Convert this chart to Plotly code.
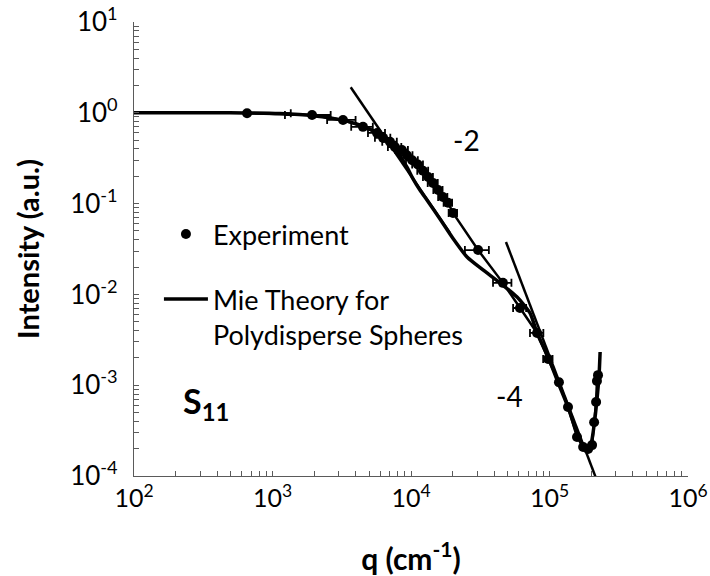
import plotly.graph_objects as go

# ---------------- data ----------------
exp_q = [655, 1930, 3230, 4500, 5690, 6290, 7050, 7660, 8600, 9350, 10200, 11200,
         12200, 13300, 14400, 15700, 17000, 18500, 20100, 30500, 46100, 61200,
         81300, 97600, 117000, 136000, 158000, 175000, 190000, 203000, 210000,
         217000, 220000, 224000]
exp_I = [0.99, 0.946, 0.834, 0.70, 0.60, 0.53, 0.48, 0.42, 0.39, 0.34, 0.30, 0.27,
         0.23, 0.196, 0.169, 0.141, 0.118, 0.102, 0.079, 0.0308, 0.0134, 0.00708,
         0.00376, 0.00194, 0.00108, 0.000575, 0.000269, 0.000209, 0.000198,
         0.000219, 0.00039, 0.000653, 0.00111, 0.00129]
exp_dq = [700, 700, 750, 800, 800, 800, 850, 850, 900, 900, 1000, 1000,
          1100, 1100, 1200, 1200, 1300, 1300, 1400, 6000, 7000, 6600,
          9000, 7600, 4000, 3000, 0, 0, 0, 0, 0, 0, 0, 0]

mie_q = [100, 493, 1130, 1950, 3330, 4650, 5980, 7050, 8330, 9350, 10300, 11600,
         13000, 16200, 20000, 25400, 33100, 43900, 58300, 72300, 81300, 97600,
         115000, 136000, 158000, 175000, 187000, 200000, 210000, 220000, 228000,
         232000]
mie_I = [1.0, 1.0, 0.98, 0.93, 0.82, 0.70, 0.57, 0.46, 0.334, 0.253, 0.19, 0.141,
         0.11, 0.0676, 0.0418, 0.0258, 0.0186, 0.0134, 0.00936, 0.00624, 0.00376,
         0.00205, 0.00108, 0.000575, 0.000298, 0.000214, 0.000198, 0.000231,
         0.000365, 0.00069, 0.00129, 0.00232]

slope2_q = [3670, 19100]
slope2_I = [1.91, 0.0474]
slope4_q = [48500, 222000]
slope4_I = [0.0378, 0.000086]

x_tickvals = [1e2, 1e3, 1e4, 1e5, 1e6]
x_ticktext = ["10<sup>2</sup>", "10<sup>3</sup>", "10<sup>4</sup>", "10<sup>5</sup>", "10<sup>6</sup>"]
y_tickvals = [1e-4, 1e-3, 1e-2, 1e-1, 1e0, 1e1]
y_ticktext = ["10<sup>-4</sup>", "10<sup>-3</sup>", "10<sup>-2</sup>", "10<sup>-1</sup>",
              "10<sup>0</sup>", "10<sup>1</sup>"]

# minor tick positions (2..9 within each decade)
x_minor = [m * d for d in [1e2, 1e3, 1e4, 1e5] for m in range(2, 10)]
y_minor = [m * d for d in [1e-4, 1e-3, 1e-2, 1e-1, 1e0] for m in range(2, 10)]

FONT = "Lato"
BLACK = "#000000"
AXC = "#5a5a5a"

fig = go.Figure()

# slope guide lines
fig.add_trace(go.Scatter(x=slope2_q, y=slope2_I, mode="lines",
                         line=dict(color=BLACK, width=2.5), showlegend=False,
                         hoverinfo="skip"))
fig.add_trace(go.Scatter(x=slope4_q, y=slope4_I, mode="lines",
                         line=dict(color=BLACK, width=2.5), showlegend=False,
                         hoverinfo="skip"))

# theory
fig.add_trace(go.Scatter(x=mie_q, y=mie_I, mode="lines",
                         line=dict(color=BLACK, width=3.5, shape="spline", smoothing=0.6),
                         name="Mie Theory for<br>Polydisperse Spheres",
                         legendrank=2, legendgroup="b"))

# experiment
fig.add_trace(go.Scatter(x=exp_q, y=exp_I, mode="lines+markers",
                         line=dict(color=BLACK, width=2.5),
                         marker=dict(color=BLACK, size=10),
                         error_x=dict(type="data", array=exp_dq, visible=True,
                                      color=BLACK, thickness=1.8, width=4),
                         showlegend=False))
# legend entry for experiment (markers only)
fig.add_trace(go.Scatter(x=[None], y=[None], mode="markers",
                         marker=dict(color=BLACK, size=10),
                         name="Experiment", legendrank=1, legendgroup="a"))

fig.update_layout(
    width=710, height=576,
    margin=dict(l=134, r=22, t=22, b=100, autoexpand=False),
    paper_bgcolor="white", plot_bgcolor="white",
    font=dict(family=FONT, color=BLACK, size=25),
    showlegend=True,
    legend=dict(x=0.045, y=0.586, xanchor="left", yanchor="top",
                bgcolor="rgba(0,0,0,0)", font=dict(size=27, family=FONT),
                valign="top", tracegroupgap=27, itemwidth=44),
    xaxis=dict(type="log", range=[2, 6], tickmode="array",
               tickvals=x_tickvals, ticktext=x_ticktext,
               ticks="inside", ticklen=5, tickwidth=1, tickcolor=AXC,
               showline=True, linecolor=AXC, linewidth=1.3, mirror=False,
               showgrid=False, zeroline=False, automargin=False,
               minor=dict(tickmode="array", tickvals=x_minor, ticks="inside",
                          ticklen=5, tickwidth=1, tickcolor=AXC, showgrid=False),
               tickfont=dict(size=25),
               title=dict(text="<b>q (cm<sup>-1</sup>)</b>", font=dict(size=30), standoff=38)),
    yaxis=dict(type="log", range=[-4, 1], tickmode="array",
               tickvals=y_tickvals, ticktext=y_ticktext,
               ticks="inside", ticklen=5, tickwidth=1, tickcolor=AXC,
               showline=True, linecolor=AXC, linewidth=1.3, mirror=False,
               showgrid=False, zeroline=False, automargin=False,
               minor=dict(tickmode="array", tickvals=y_minor, ticks="inside",
                          ticklen=5, tickwidth=1, tickcolor=AXC, showgrid=False),
               tickfont=dict(size=26), ticklabelstandoff=10,
               title=dict(text="<b>Intensity (a.u.)</b>", font=dict(size=29), standoff=22)),
    annotations=[
        dict(x=4.404, y=-0.300, xref="x", yref="y", text="-2", showarrow=False,
             font=dict(size=28, family=FONT)),
        dict(x=4.708, y=-3.119, xref="x", yref="y", text="-4", showarrow=False,
             font=dict(size=28, family=FONT)),
        dict(x=2.52, y=-3.2, xref="x", yref="y", text="<b>S<sub>11</sub></b>",
             showarrow=False, font=dict(size=34, family=FONT)),
    ],
)

fig.write_html("out.html")
